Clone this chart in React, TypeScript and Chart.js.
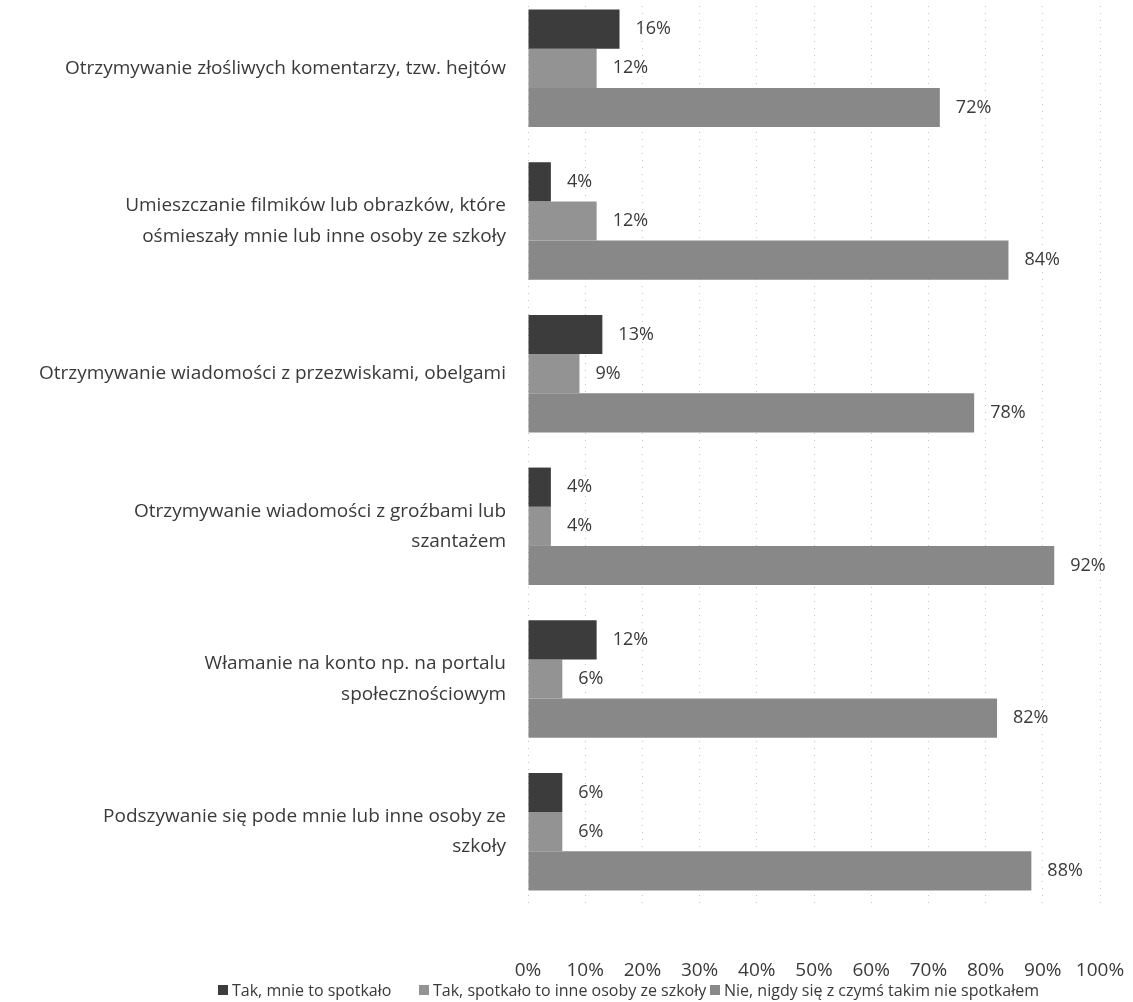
import React, { useEffect, useRef } from "react";
import { Chart, registerables } from "chart.js";

Chart.register(...registerables);

const categories: (string | string[])[] = [
  "Otrzymywanie złośliwych komentarzy, tzw. hejtów",
  ["Umieszczanie filmików lub obrazków, które", "ośmieszały mnie lub inne osoby ze szkoły"],
  "Otrzymywanie wiadomości z przezwiskami, obelgami",
  ["Otrzymywanie wiadomości z groźbami lub", "szantażem"],
  ["Włamanie na konto np. na portalu", "społecznościowym"],
  ["Podszywanie się pode mnie lub inne osoby ze", "szkoły"],
];

const seriesNames = [
  "Tak, mnie to spotkało",
  "Tak, spotkało to inne osoby ze szkoły",
  "Nie, nigdy się z czymś takim nie spotkałem",
];

const takMnie = [16, 4, 13, 4, 12, 6];
const takInni = [12, 12, 9, 4, 6, 6];
const nie = [72, 84, 78, 92, 82, 88];

const xTicks = [0, 10, 20, 30, 40, 50, 60, 70, 80, 90, 100];

const colors = ["#3c3c3c", "#939393", "#888888"];
const FONT = "'Open Sans', sans-serif";

const valueLabels = {
  id: "valueLabels",
  afterDatasetsDraw(chart: any) {
    const ctx = chart.ctx;
    ctx.save();
    ctx.font = `18px ${FONT}`;
    ctx.fillStyle = "#3a3a3a";
    ctx.textAlign = "left";
    ctx.textBaseline = "middle";
    chart.data.datasets.forEach((ds: any, i: number) => {
      const meta = chart.getDatasetMeta(i);
      meta.data.forEach((bar: any, j: number) => {
        ctx.fillText(`${ds.data[j]}%`, bar.x + 16, bar.y);
      });
    });
    ctx.restore();
  },
};

export default function App() {
  const ref = useRef<HTMLCanvasElement>(null);
  useEffect(() => {
    if (!ref.current) return;
    const chart = new Chart(ref.current, {
      type: "bar",
      data: {
        labels: categories,
        datasets: [takMnie, takInni, nie].map((d, i) => ({
          label: seriesNames[i],
          data: d,
          backgroundColor: colors[i],
          borderWidth: 0,
          barPercentage: 1,
          categoryPercentage: 0.77,
        })),
      },
      options: {
        indexAxis: "y",
        animation: false,
        responsive: false,
        maintainAspectRatio: false,
        layout: { padding: { left: 0, top: 0, bottom: 0, right: 33 } },
        plugins: { legend: { display: false }, tooltip: { enabled: false } },
        scales: {
          x: {
            min: 0,
            max: 100,
            afterBuildTicks: (axis: any) => {
              axis.ticks = xTicks.map((v) => ({ value: v }));
            },
            afterFit: (axis: any) => {
              axis.height = 94;
              axis.paddingLeft = 0;
              axis.paddingRight = 0;
            },
            grid: {
              color: "#c4c4c4",
              lineWidth: 1,
              drawTicks: false,
            },
            border: { display: false, dash: [1, 6] },
            ticks: {
              padding: 51,
              color: "#3a3a3a",
              font: { family: FONT, size: 19 },
              callback: (v: any) => `${v}%`,
            },
          },
          y: {
            afterFit: (axis: any) => {
              axis.width = 528;
              axis.paddingTop = 0;
              axis.paddingBottom = 0;
            },
            grid: { display: false, drawTicks: false },
            border: { display: false },
            ticks: {
              padding: 22,
              color: "#3a3a3a",
              font: { family: FONT, size: 19, lineHeight: 1.6 },
            },
          },
        },
      },
      plugins: [valueLabels],
    });
    return () => chart.destroy();
  }, []);

  const legendX = [218, 419, 710];
  return (
    <div style={{ position: "fixed", left: 0, top: 0, width: 1133, height: 1002, overflow: "hidden" }}>
      <canvas
        ref={ref}
        width={1133}
        height={1010}
        style={{ position: "absolute", left: 0, top: -8, width: 1133, height: 1010 }}
      />
      {seriesNames.map((n, i) => (
        <div
          key={n}
          style={{
            position: "absolute",
            left: legendX[i],
            top: 979,
            display: "flex",
            alignItems: "center",
            fontFamily: FONT,
            fontSize: 16,
            lineHeight: "22px",
            color: "#3a3a3a",
            whiteSpace: "nowrap",
          }}
        >
          <span style={{ display: "inline-block", width: 10, height: 10, background: colors[i], marginRight: 4 }} />
          {n}
        </div>
      ))}
    </div>
  );
}
